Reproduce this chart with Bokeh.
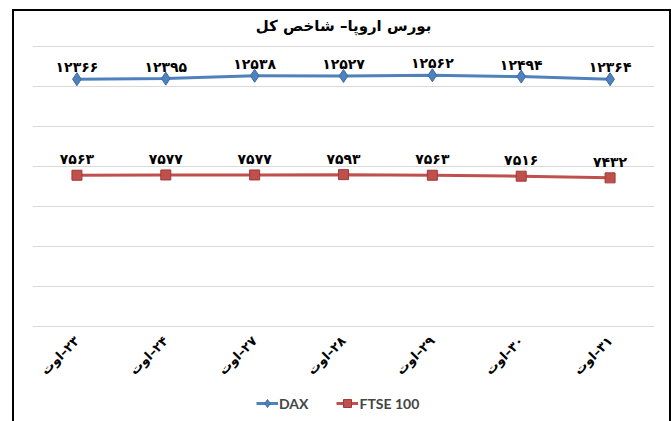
import math
from bokeh.plotting import figure
from bokeh.models import (ColumnDataSource, Legend, LegendItem, LabelSet, Label,
                          FactorRange, Range1d, FixedTicker)
from bokeh.core.properties import value
from bokeh.embed import file_html
from bokeh.resources import INLINE

# ---- data ----
dates = ["۲۳–اوت", "۲۴–اوت", "۲۷–اوت", "۲۸–اوت", "۲۹–اوت", "۳۰–اوت", "۳۱–اوت"]
dax = [12366, 12395, 12538, 12527, 12562, 12494, 12364]
ftse = [7563, 7577, 7577, 7593, 7563, 7516, 7432]
grid_values = [0, 2000, 4000, 6000, 8000, 10000, 12000, 14000]
title_text = "بورس اروپا– شاخص کل"
series_names = ["DAX", "FTSE 100"]

fa_digits = str.maketrans("0123456789", "۰۱۲۳۴۵۶۷۸۹")
factors = ["\u200f" + d for d in dates]

src = ColumnDataSource(dict(
    x=factors,
    dax=dax,
    ftse=ftse,
    dax_lbl=[str(v).translate(fa_digits) for v in dax],
    ftse_lbl=[str(v).translate(fa_digits) for v in ftse],
))

# frame spans the whole visible chart box; value axis 0..14000 maps to y 326..46
p = figure(frame_width=622, frame_height=410, output_backend="svg", toolbar_location=None,
           x_range=FactorRange(*factors, range_padding=0),
           y_range=Range1d(-4750, 15750),
           min_border_left=18, min_border_right=15, min_border_top=0, min_border_bottom=0)
p.margin = (9, 0, 0, 12)
p.styles = {"border": "2px solid black"}
p.outline_line_color = None
p.background_fill_color = "white"
p.border_fill_color = "white"

p.yaxis.visible = False
p.ygrid.ticker = FixedTicker(ticks=grid_values)
p.ygrid.grid_line_color = "#D9D9D9"
p.ygrid.grid_line_width = 1
p.xgrid.visible = False

ax = p.xaxis[0]
ax.fixed_location = 0
ax.axis_line_color = None
ax.major_tick_line_color = None
ax.minor_tick_line_color = None
ax.major_tick_out = 0
ax.major_tick_in = 0
ax.major_label_orientation = math.pi / 4
ax.major_label_text_font = "DejaVu Sans"
ax.major_label_text_font_style = "bold"
ax.major_label_text_font_size = "13px"
ax.major_label_text_color = "black"
ax.major_label_standoff = 12

blue = "#4F81BD"
red = "#C0504D"
l1 = p.line("x", "dax", source=src, line_color=blue, line_width=3)
m1 = p.scatter("x", "dax", source=src, marker="diamond", size=13,
               fill_color=blue, line_color="#3A6AA6", line_width=1)
l2 = p.line("x", "ftse", source=src, line_color=red, line_width=3)
m2 = p.scatter("x", "ftse", source=src, marker="square", size=10,
               fill_color=red, line_color="#9E3A37", line_width=1)

lab1 = LabelSet(x="x", y="dax", text="dax_lbl", source=src, y_offset=12,
                text_align="center", text_baseline="middle",
                text_font=value("DejaVu Sans"), text_font_style="bold",
                text_font_size="14px", text_color="black")
lab2 = LabelSet(x="x", y="ftse", text="ftse_lbl", source=src, y_offset=16,
                text_align="center", text_baseline="middle",
                text_font=value("DejaVu Sans"), text_font_style="bold",
                text_font_size="14px", text_color="black")
p.add_layout(lab1)
p.add_layout(lab2)

title = Label(x=3.5, y=grid_values[-1], y_offset=21, text=title_text,
              text_align="center", text_baseline="middle",
              text_font="DejaVu Sans", text_font_style="bold",
              text_font_size="15px", text_color="black")
p.add_layout(title)

legend = Legend(items=[LegendItem(label=series_names[0], renderers=[l1, m1]),
                       LegendItem(label=series_names[1], renderers=[l2, m2])],
                orientation="horizontal", location=(224, 8),
                border_line_color=None, background_fill_alpha=0,
                label_text_font="Lato", label_text_font_style="bold",
                label_text_font_size="14px", glyph_width=22, spacing=28,
                padding=0, margin=0, label_standoff=1)
p.add_layout(legend, "center")

open("out.html", "w").write(file_html(p, INLINE))
